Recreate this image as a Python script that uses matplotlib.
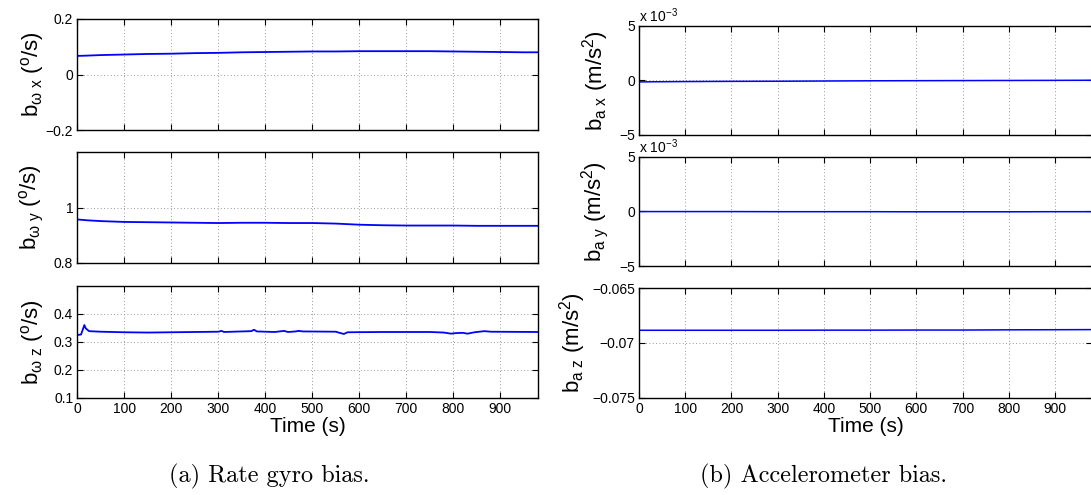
import matplotlib
matplotlib.use("Agg")
import matplotlib.pyplot as plt

plt.rcParams['font.family'] = ['Liberation Sans', 'DejaVu Sans']
plt.rcParams['mathtext.fontset'] = 'custom'
plt.rcParams['mathtext.rm'] = 'Liberation Sans'
plt.rcParams['mathtext.it'] = 'Liberation Sans:italic'
plt.rcParams['axes.unicode_minus'] = True

# ---------------- data ----------------
time_ticks = [0, 100, 200, 300, 400, 500, 600, 700, 800, 900]
x_max = 980

gx_t = [0, 20, 50, 100, 150, 200, 250, 300, 350, 400, 450, 500, 550, 600, 650, 700, 750, 800, 850, 900, 950, 980]
gx_v = [0.067, 0.068, 0.070, 0.072, 0.074, 0.075, 0.077, 0.078, 0.080, 0.081, 0.082, 0.083, 0.083, 0.084, 0.084, 0.084, 0.084, 0.083, 0.082, 0.081, 0.080, 0.080]

gy_t = [0, 20, 50, 100, 150, 200, 250, 300, 350, 400, 450, 500, 550, 600, 650, 700, 750, 800, 850, 900, 950, 980]
gy_v = [0.957, 0.954, 0.951, 0.948, 0.947, 0.946, 0.945, 0.944, 0.945, 0.945, 0.944, 0.944, 0.942, 0.938, 0.936, 0.935, 0.935, 0.935, 0.934, 0.934, 0.934, 0.934]

gz_t = [0, 8, 12, 15, 18, 25, 50, 100, 150, 200, 250, 300, 307, 312, 350, 370, 376, 382, 420, 440, 448,
        465, 470, 480, 550, 560, 567, 575, 650, 750, 780, 795, 805, 820, 830, 845, 866, 880, 980]
gz_v = [0.324, 0.326, 0.345, 0.360, 0.348, 0.338, 0.336, 0.334, 0.333, 0.334, 0.335, 0.336, 0.339, 0.335,
        0.337, 0.338, 0.343, 0.337, 0.335, 0.339, 0.335, 0.337, 0.339, 0.337, 0.336, 0.331, 0.328, 0.334,
        0.335, 0.335, 0.333, 0.329, 0.331, 0.332, 0.329, 0.334, 0.338, 0.336, 0.335]

ax_t = [0, 100, 200, 300, 400, 500, 600, 700, 800, 900, 980]
ax_v = [-0.00015, -0.00012, -0.00010, -0.00009, -0.00007, -0.00005, -0.00004, -0.00003, -0.00002, -0.00001, 0.0]

ay_t = [0, 100, 200, 300, 400, 500, 600, 700, 800, 900, 980]
ay_v = [-0.00003, -0.00003, -0.00003, -0.00004, -0.00004, -0.00004, -0.00005, -0.00005, -0.00005, -0.00004, -0.00004]

az_t = [0, 100, 200, 300, 400, 500, 600, 700, 800, 900, 980]
az_v = [-0.06886, -0.06886, -0.06886, -0.06886, -0.06885, -0.06885, -0.06884, -0.06884, -0.06882, -0.06881, -0.06880]

gx_lim, gx_ticks, gx_labels = (-0.2, 0.2), [-0.2, 0, 0.2], ['\u22120.2', '0', '0.2']
gy_lim, gy_ticks, gy_labels = (0.8, 1.2), [0.8, 1.0], ['0.8', '1']
gz_lim, gz_ticks, gz_labels = (0.1, 0.5), [0.1, 0.2, 0.3, 0.4], ['0.1', '0.2', '0.3', '0.4']
axy_lim, axy_ticks, axy_labels = (-5e-3, 5e-3), [-5e-3, 0, 5e-3], ['\u22125', '0', '5']
az_lim, az_ticks, az_labels = (-0.075, -0.065), [-0.075, -0.07, -0.065], ['\u22120.075', '\u22120.07', '\u22120.065']

gyro_labels = [r'b$_{\mathregular{\omega\ x}}$ ($^{\mathregular{o}}$/s)',
               r'b$_{\mathregular{\omega\ y}}$ ($^{\mathregular{o}}$/s)',
               r'b$_{\mathregular{\omega\ z}}$ ($^{\mathregular{o}}$/s)']
acc_labels = [r'b$_{\mathregular{a\ x}}$ (m/s$^{\mathregular{2}}$)',
              r'b$_{\mathregular{a\ y}}$ (m/s$^{\mathregular{2}}$)',
              r'b$_{\mathregular{a\ z}}$ (m/s$^{\mathregular{2}}$)']
offset_label = r'x 10$^{\mathregular{-3}}$'

# ---------------- figure ----------------
W, H = 1091, 495
fig = plt.figure(figsize=(W / 100, H / 100), dpi=100)


def add_ax(x0, x1, y0, y1):
    return fig.add_axes([x0 / W, 1 - y1 / H, (x1 - x0) / W, (y1 - y0) / H])


left_rows = [(19, 130), (152, 263), (286, 397.5)]
right_rows = [(25.5, 135), (156.5, 266), (288, 397.5)]
LX0, LX1 = 77.3, 538
RX0, RX1 = 639, 1092

gyro = [(gx_t, gx_v, gx_lim, gx_ticks, gx_labels),
        (gy_t, gy_v, gy_lim, gy_ticks, gy_labels),
        (gz_t, gz_v, gz_lim, gz_ticks, gz_labels)]
acc = [(ax_t, ax_v, axy_lim, axy_ticks, axy_labels),
       (ay_t, ay_v, axy_lim, axy_ticks, axy_labels),
       (az_t, az_v, az_lim, az_ticks, az_labels)]
acc_label_x = [-0.062, -0.062, -0.112]


def style(ax, lim, ticks, labels, ylabel, bottom, labx):
    ax.set_xlim(0, x_max)
    ax.set_ylim(*lim)
    ax.set_xticks(time_ticks)
    ax.set_yticks(ticks)
    ax.set_yticklabels(labels)
    if bottom:
        ax.set_xticklabels([str(t) for t in time_ticks])
        ax.set_xlabel('Time (s)', fontsize=15, labelpad=1)
    else:
        ax.set_xticklabels([])
    ax.tick_params(direction='in', top=True, right=True, length=4, width=0.8,
                   labelsize=10, pad=3)
    ax.tick_params(axis='y', pad=3)
    ax.grid(True, color='#777777', linestyle=(0, (1, 3)), linewidth=0.6)
    for s in ax.spines.values():
        s.set_linewidth(1.0)
    ax.set_ylabel(ylabel, fontsize=16)
    ax.yaxis.set_label_coords(labx, 0.5)


for i, (row, d) in enumerate(zip(left_rows, gyro)):
    a = add_ax(LX0, LX1, *row)
    a.plot(d[0], d[1], color='#0000ff', linewidth=1.3)
    style(a, d[2], d[3], d[4], gyro_labels[i], i == 2, -0.068)

for i, (row, d) in enumerate(zip(right_rows, acc)):
    a = add_ax(RX0, RX1, *row)
    a.plot(d[0], d[1], color='#0000ff', linewidth=1.1)
    style(a, d[2], d[3], d[4], acc_labels[i], i == 2, acc_label_x[i])
    if i < 2:
        a.text(0.0, 1.005, offset_label, transform=a.transAxes,
               ha='left', va='bottom', fontsize=10)

fig.text(269 / W, 1 - 476 / H, '(a) Rate gyro bias.', fontfamily='cmr10',
         fontsize=17.5, ha='center', va='center')
fig.text(824 / W, 1 - 476 / H, '(b) Accelerometer bias.', fontfamily='cmr10',
         fontsize=17.5, ha='center', va='center')

fig.savefig('out.png', dpi=100)
